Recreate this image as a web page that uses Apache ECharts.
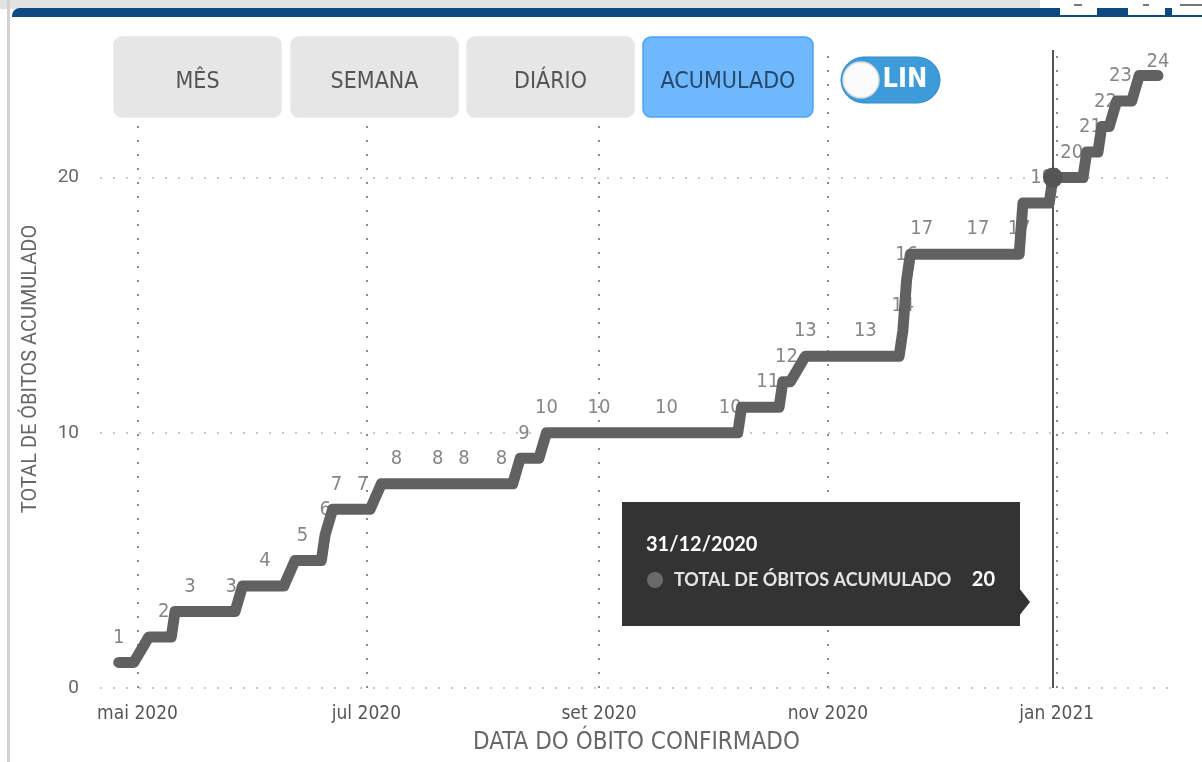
<!DOCTYPE html>
<html><head><meta charset="utf-8">
<script src="https://cdn.jsdelivr.net/npm/echarts@6/dist/echarts.min.js"></script>
<style>html,body{margin:0;padding:0;background:#fff;}#c{width:1202px;height:762px;}</style>
</head><body><div id="c"></div>
<script>
// ---- data ----
const lineDates = ['2020-04-26','2020-04-30','2020-05-04','2020-05-10','2020-05-11','2020-05-27','2020-05-29','2020-06-09','2020-06-12','2020-06-19','2020-06-20','2020-06-22','2020-07-02','2020-07-05','2020-08-09','2020-08-11','2020-08-16','2020-08-18','2020-10-08','2020-10-09','2020-10-19','2020-10-20','2020-10-22','2020-10-26','2020-11-20','2020-11-21','2020-11-22','2020-11-23','2020-12-22','2020-12-23','2020-12-30','2020-12-31','2021-01-08','2021-01-09','2021-01-12','2021-01-13','2021-01-15','2021-01-17','2021-01-21','2021-01-23','2021-01-28'];
const lineValues = [1,1,2,2,3,3,4,4,5,5,6,7,7,8,8,9,9,10,10,11,11,12,12,13,13,14,16,17,17,19,19,20,20,21,21,22,22,23,23,24,24];
const labelDates = ['2020-04-26','2020-05-08','2020-05-15','2020-05-26','2020-06-04','2020-06-14','2020-06-20','2020-06-23','2020-06-30','2020-07-09','2020-07-20','2020-07-27','2020-08-06','2020-08-12','2020-08-18','2020-09-01','2020-09-19','2020-10-06','2020-10-16','2020-10-21','2020-10-26','2020-11-11','2020-11-21','2020-11-22','2020-11-26','2020-12-11','2020-12-22','2020-12-28','2021-01-05','2021-01-10','2021-01-14','2021-01-18','2021-01-28'];
const labelValues = [1,2,3,3,4,5,6,7,7,8,8,8,8,9,10,10,10,10,11,12,13,13,14,16,17,17,17,19,20,21,22,23,24];
const tickDates = ['2020-05-01','2020-07-01','2020-09-01','2020-11-01','2021-01-01'];
const tickLabels = ['mai 2020','jul 2020','set 2020','nov 2020','jan 2021'];
const yTicks = [0, 10, 20];
const xRange = ['2020-04-21', '2021-02-01'];
const yMax = 25;
const hoverDate = '2020-12-31';
const hoverValue = 20;
const tooltipTitle = '31/12/2020';
const seriesName = 'TOTAL DE ÓBITOS ACUMULADO';
const xTitle = 'DATA DO ÓBITO CONFIRMADO';
const buttonLabels = ['MÊS', 'SEMANA', 'DIÁRIO', 'ACUMULADO'];
const activeButton = 3;
const toggleLabel = 'LIN';

// ---- helpers ----
function ts(s) { const p = s.split('-').map(Number); return Date.UTC(p[0], p[1] - 1, p[2]); }
const NARROW = "'Liberation Sans Narrow', 'DejaVu Sans Condensed', Roboto, sans-serif";
const tickTs = tickDates.map(ts);
const lineData = lineDates.map((d, i) => [ts(d), lineValues[i]]);
const labelData = labelDates.map((d, i) => {
  const item = { value: [ts(d), labelValues[i]] };
  if (i === labelDates.length - 1) item.label = { distance: 4 };
  return item;
});

const chart = echarts.init(document.getElementById('c'), null, { renderer: 'canvas' });

const gridMarks = [];
tickTs.forEach(t => gridMarks.push({ xAxis: t, lineStyle: { color: '#8a8a8a', width: 2, type: [2, 12] } }));
yTicks.forEach(v => gridMarks.push({ yAxis: v, lineStyle: { color: '#c8c8c8', width: 2, type: [2, 11] } }));
gridMarks.push({ xAxis: ts(hoverDate), lineStyle: { color: '#555', width: 2, type: 'solid' } });

// buttons & decorations
const btnX = [114, 291, 467, 643];
const btnW = [167, 167, 167, 170];
const graphics = [
  { type: 'rect', shape: { x: 0, y: 0, width: 1040, height: 9 }, style: { fill: '#e2e2e2' }, z: 100 },
  { type: 'rect', shape: { x: 7, y: 0, width: 3, height: 762 }, style: { fill: '#d2d2d2' }, z: 100 },
  { type: 'rect', shape: { x: 12, y: 8, width: 1190, height: 9, r: [8, 0, 0, 0] }, style: { fill: '#0e4a80' }, z: 101 },
  { type: 'rect', shape: { x: 1060, y: 0, width: 37, height: 15 }, style: { fill: '#fff' }, z: 102 },
  { type: 'rect', shape: { x: 1128, y: 0, width: 37, height: 15 }, style: { fill: '#fff' }, z: 102 },
  { type: 'rect', shape: { x: 1172, y: 0, width: 30, height: 15 }, style: { fill: '#fff' }, z: 102 },
  { type: 'rect', shape: { x: 1074, y: 4, width: 8, height: 2 }, style: { fill: '#777' }, z: 103 },
  { type: 'rect', shape: { x: 1143, y: 4, width: 6, height: 2 }, style: { fill: '#777' }, z: 103 },
  { type: 'rect', shape: { x: 1180, y: 4, width: 22, height: 2 }, style: { fill: '#777' }, z: 103 },
  { type: 'rect', shape: { x: 1060, y: 15, width: 142, height: 2 }, style: { fill: '#0e4a80' }, z: 103 }
];
buttonLabels.forEach((t, i) => {
  const act = i === activeButton;
  graphics.push({ type: 'rect', shape: { x: btnX[i], y: 37, width: btnW[i], height: 80, r: 8 },
    style: { fill: act ? '#6fb8fd' : '#e6e6e6', stroke: act ? '#4aa3f5' : '#e6e6e6', lineWidth: 1.5 }, z: 100 });
  graphics.push({ type: 'text', x: btnX[i] + btnW[i] / 2, y: 82, z: 101,
    style: { text: t, align: 'center', verticalAlign: 'middle', fill: act ? '#24476b' : '#555', font: '23px ' + NARROW } });
});
graphics.push({ type: 'rect', shape: { x: 841, y: 57, width: 99, height: 46, r: 23 }, style: { fill: '#3d9bd9', stroke: '#2f89c7', lineWidth: 1 }, z: 100 });
graphics.push({ type: 'circle', shape: { cx: 861, cy: 80, r: 18 }, style: { fill: '#fbfbfb', stroke: '#d8d8d8', lineWidth: 1.5 }, z: 101 });
graphics.push({ type: 'text', x: 905, y: 80, z: 101, style: { text: toggleLabel, align: 'center', verticalAlign: 'middle', fill: '#fff', font: 'bold 27px ' + NARROW } });
// tooltip
graphics.push({ type: 'rect', shape: { x: 622, y: 502, width: 398, height: 124 }, style: { fill: '#333333' }, z: 110 });
graphics.push({ type: 'polygon', shape: { points: [[1019, 588], [1030, 602], [1019, 616]] }, style: { fill: '#333333' }, z: 110 });
graphics.push({ type: 'text', x: 646, y: 545, z: 111, style: { text: tooltipTitle, verticalAlign: 'middle', fill: '#fff', font: 'bold 20px Lato' } });
graphics.push({ type: 'circle', shape: { cx: 655, cy: 580, r: 8 }, style: { fill: '#6a6a6a' }, z: 111 });
graphics.push({ type: 'text', x: 674, y: 580, z: 111, style: { text: seriesName, verticalAlign: 'middle', fill: '#e4e4e4', font: 'bold 18px Lato' } });
graphics.push({ type: 'text', x: 995, y: 580, z: 111, style: { text: String(hoverValue), align: 'right', verticalAlign: 'middle', fill: '#fff', font: 'bold 20px Lato' } });

chart.setOption({
  animation: false,
  backgroundColor: '#fff',
  grid: { left: 100, right: 29, top: 50, bottom: 74 },
  xAxis: {
    type: 'value', min: ts(xRange[0]), max: ts(xRange[1]),
    axisLine: { show: false }, axisTick: { show: false },
    splitLine: { show: false },
    axisLabel: { customValues: tickTs, formatter: v => { const k = tickTs.indexOf(v); return k >= 0 ? tickLabels[k] : ''; },
      margin: 17, color: '#555', fontSize: 19, fontFamily: NARROW },
    name: xTitle, nameLocation: 'middle', nameGap: 43,
    nameTextStyle: { color: '#666', fontSize: 24, fontFamily: NARROW }
  },
  yAxis: {
    type: 'value', min: 0, max: yMax, interval: 10,
    axisLine: { show: false }, axisTick: { show: false }, splitLine: { show: false },
    axisLabel: { customValues: yTicks, margin: 21, color: '#666', fontSize: 19, fontFamily: 'Roboto' },
    name: 'TOTAL DE ÓBITOS ACUMULADO', nameLocation: 'middle', nameGap: 59, nameRotate: 90,
    nameTextStyle: { color: '#666', fontSize: 20, fontFamily: 'Roboto' }
  },
  graphic: graphics,
  series: [
    {
      type: 'scatter', z: 1, symbolSize: 0, data: labelData, silent: true,
      label: { show: true, position: 'top', distance: 15, formatter: p => String(p.value[1]),
        color: '#666', fontSize: 20, fontFamily: NARROW },
      markLine: { z: 1, silent: true, symbol: ['none', 'none'], label: { show: false }, data: gridMarks }
    },
    {
      type: 'line', z: 3, data: lineData, showSymbol: false, silent: true,
      lineStyle: { color: '#616161', width: 11, cap: 'round', join: 'round' }
    },
    {
      type: 'scatter', z: 4, silent: true, data: [[ts(hoverDate), hoverValue]], symbol: 'circle', symbolSize: 20,
      itemStyle: { color: '#555', opacity: 1 }
    }
  ]
});
</script>
</body></html>
